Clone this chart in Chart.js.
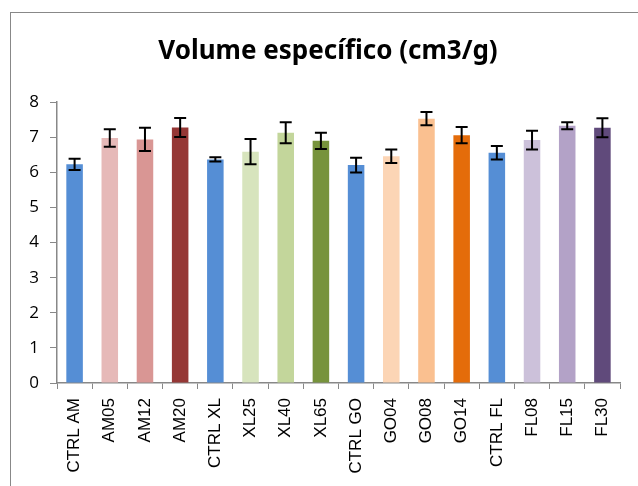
<!DOCTYPE html>
<html>
<head>
<meta charset="utf-8">
<script src="https://cdn.jsdelivr.net/npm/chart.js@4"></script>
<style>
  html, body { margin: 0; padding: 0; background: #fff; overflow: hidden; }
  #wrap { position: relative; width: 638px; height: 486px; }
  #frame { position: absolute; left: 10px; top: 12px; width: 700px; height: 600px; border: 1.5px solid #888; box-sizing: border-box; }
  canvas { position: absolute; left: 0; top: 0; }
</style>
</head>
<body>
<div id="wrap">
  <div id="frame"></div>
  <canvas id="myChart" width="638" height="486"></canvas>
</div>
<script>
var labels = ['CTRL AM', 'AM05', 'AM12', 'AM20', 'CTRL XL', 'XL25', 'XL40', 'XL65',
              'CTRL GO', 'GO04', 'GO08', 'GO14', 'CTRL FL', 'FL08', 'FL15', 'FL30'];
var volume = [6.23, 6.98, 6.94, 7.28, 6.37, 6.59, 7.13, 6.90,
              6.21, 6.46, 7.53, 7.06, 6.56, 6.92, 7.33, 7.27];
var desvio = [0.16, 0.25, 0.33, 0.27, 0.06, 0.36, 0.30, 0.23,
              0.21, 0.19, 0.19, 0.23, 0.19, 0.27, 0.10, 0.27];
var colors = ['#558ED5', '#E6B9B8', '#D99694', '#953735', '#558ED5', '#D7E4BD', '#C3D69B', '#77933C',
              '#558ED5', '#FCD5B5', '#FAC090', '#E46C0A', '#558ED5', '#CCC1DA', '#B3A2C7', '#604A7B'];

// barras de erro
const errorBars = {
    id: 'errorBars',
    afterDatasetsDraw(chart) {
        const ctx = chart.ctx;
        const meta = chart.getDatasetMeta(0);
        const y = chart.scales.y;
        ctx.save();
        ctx.strokeStyle = '#000';
        ctx.lineWidth = 2;
        meta.data.forEach(function (bar, i) {
            const top = y.getPixelForValue(volume[i] + desvio[i]);
            const bot = y.getPixelForValue(volume[i] - desvio[i]);
            ctx.beginPath();
            ctx.moveTo(bar.x, top); ctx.lineTo(bar.x, bot);
            ctx.moveTo(bar.x - 6, top); ctx.lineTo(bar.x + 6, top);
            ctx.moveTo(bar.x - 6, bot); ctx.lineTo(bar.x + 6, bot);
            ctx.stroke();
        });
        ctx.restore();
    }
};

// centra o titulo como no excel (um pouco para a direita)
const titleShift = {
    id: 'titleShift',
    afterLayout(chart) {
        const t = chart.titleBlock;
        if (t) { t.left += 18; t.right += 18; }
    }
};

const data = {
    labels: labels,
    datasets: [{
        label: 'Volume específico',
        backgroundColor: colors,
        data: volume,
        barPercentage: 0.47,
        categoryPercentage: 1.0
    }]
};

const config = {
    type: 'bar',
    data: data,
    plugins: [errorBars, titleShift],
    options: {
        responsive: false,
        animation: false,
        layout: { padding: { left: 0, right: 18, top: 0, bottom: 0 } },
        plugins: {
            legend: { display: false },
            tooltip: { enabled: false },
            title: {
                display: true,
                text: 'Volume específico (cm3/g)',
                color: '#000',
                font: { family: 'Noto Sans', size: 26, weight: 'bold' },
                padding: { top: 36, bottom: 35 }
            }
        },
        scales: {
            x: {
                grid: { drawOnChartArea: false, drawTicks: true, tickLength: 6, color: '#888', offset: true },
                border: { color: '#888', width: 1.5 },
                ticks: {
                    color: '#000',
                    font: { family: 'Liberation Sans', size: 17 },
                    minRotation: 90, maxRotation: 90,
                    autoSkip: false,
                    padding: 9
                },
                afterFit: function (s) { s.height = 103; }
            },
            y: {
                min: 0, max: 8,
                grid: { drawOnChartArea: false, drawTicks: true, tickLength: 7, color: '#888' },
                border: { color: '#888', width: 1.5 },
                ticks: {
                    stepSize: 1,
                    color: '#000',
                    font: { family: 'Open Sans', size: 17 },
                    padding: 11
                },
                afterFit: function (s) { s.width = 57; }
            }
        }
    }
};

const myChart = new Chart(document.getElementById('myChart'), config);
</script>
</body>
</html>
